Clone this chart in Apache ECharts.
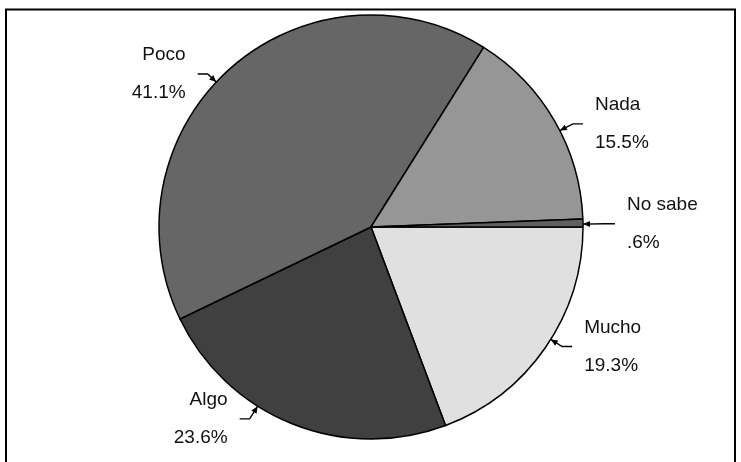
<!DOCTYPE html>
<html>
<head>
<meta charset="utf-8">
<script src="https://cdn.jsdelivr.net/npm/echarts@6/dist/echarts.min.js"></script>
<style>
html,body{margin:0;padding:0;background:#fff;}
#main{width:741px;height:462px;}
</style>
</head>
<body>
<div id="main"></div>
<script>
const categories = ['Mucho', 'Algo', 'Poco', 'Nada', 'No sabe'];
const values = [19.3, 23.6, 41.1, 15.5, 0.6];
const valueLabels = ['19.3%', '23.6%', '41.1%', '15.5%', '.6%'];
const sliceColors = ['#e0e0e0', '#404040', '#666666', '#969696', '#606060'];
// nudge of each label relative to the default outside placement
const labelShiftX = [-1, -30, -6, 0, 2];
const labelShiftY = [-8, -16, 14, 9, 1];

const CX = 371, CY = 227, R = 212;
const ELBOW = 10;

const chart = echarts.init(document.getElementById('main'), null, {renderer: 'canvas'});

const seriesData = categories.map((c, i) => ({
  name: c,
  value: values[i],
  itemStyle: {color: sliceColors[i]}
}));

const option = {
  animation: false,
  backgroundColor: '#ffffff',
  graphic: [{
    type: 'rect',
    shape: {x: 6, y: 9.5, width: 729, height: 470},
    style: {fill: 'none', stroke: '#000', lineWidth: 2},
    silent: true,
    z: -10
  }],
  series: [{
    type: 'pie',
    center: [CX, CY],
    radius: [0, R],
    startAngle: 0,
    clockwise: true,
    avoidLabelOverlap: false,
    data: seriesData,
    itemStyle: {borderColor: '#000', borderWidth: 1.5},
    emphasis: {disabled: true},
    label: {
      show: true,
      position: 'outside',
      formatter: p => p.name + '\n\n' + valueLabels[p.dataIndex],
      fontFamily: 'Liberation Sans, Arial, sans-serif',
      fontSize: 19,
      lineHeight: 19,
      color: '#111',
      distanceToLabelLine: 12
    },
    labelLine: {
      show: true,
      length: 12,
      length2: 18,
      smooth: false,
      lineStyle: {color: '#000', width: 1.4}
    }
  }]
};
chart.setOption(option);

// nudge labels and their leader lines, then add arrowheads at the pie edge
(function adjust() {
  const zr = chart.getZr();
  const data = chart.getModel().getSeriesByIndex(0).getData();
  for (let i = 0; i < data.count(); i++) {
    const el = data.getItemGraphicEl(i);
    if (!el) continue;
    const dx = labelShiftX[i], dy = labelShiftY[i];
    const text = el.getTextContent && el.getTextContent();
    if (text) { text.x += dx; text.y += dy; text.markRedraw(); }
    const guide = el.getTextGuideLine && el.getTextGuideLine();
    if (!guide || !guide.shape || !guide.shape.points) continue;
    const pts = guide.shape.points;
    const n = pts.length;
    const pEnd = [pts[n - 1][0] + dx, pts[n - 1][1] + dy];
    const side = pEnd[0] > CX ? -1 : 1;
    const bend = [pEnd[0] + side * ELBOW, pEnd[1]];
    const ang = Math.atan2(bend[1] - CY, bend[0] - CX);
    const tip = [CX + R * Math.cos(ang), CY + R * Math.sin(ang)];
    guide.setShape({points: [tip, bend, pEnd]});
    guide.markRedraw();
    const vx = tip[0] - bend[0], vy = tip[1] - bend[1];
    const len = Math.sqrt(vx * vx + vy * vy) || 1;
    const ux = vx / len, uy = vy / len;
    const L = 7, W = 3;
    const bx = tip[0] - ux * L, by = tip[1] - uy * L;
    zr.add(new echarts.graphic.Polygon({
      shape: {points: [[tip[0], tip[1]], [bx - uy * W, by + ux * W], [bx + uy * W, by - ux * W]]},
      style: {fill: '#000'},
      silent: true,
      z: 100
    }));
  }
  zr.refresh();
})();
</script>
</body>
</html>
